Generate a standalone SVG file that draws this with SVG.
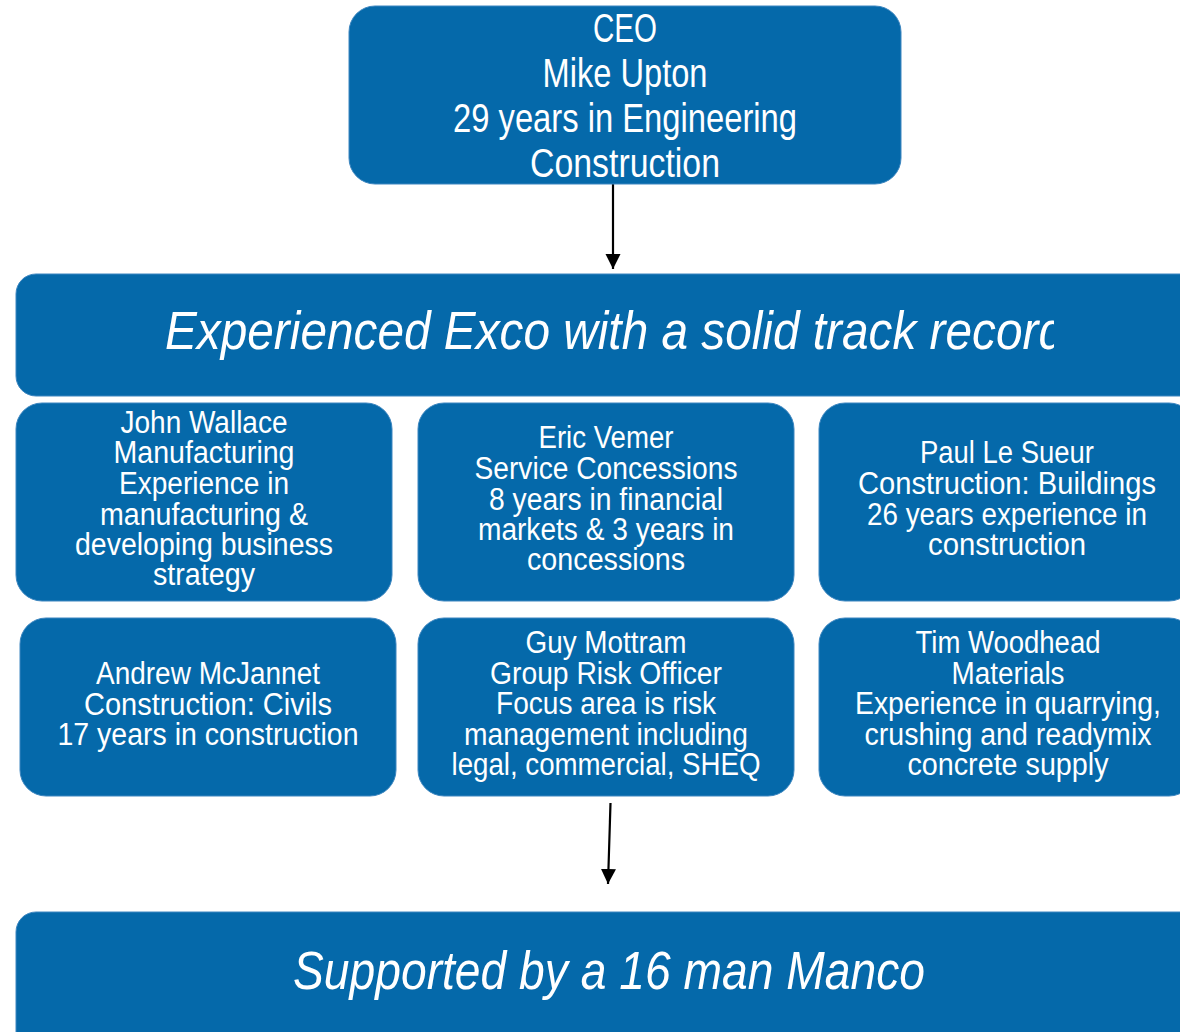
<svg xmlns="http://www.w3.org/2000/svg" width="1180" height="1032" viewBox="0 0 1180 1032">
  <style>
    .box { fill: #0569aa; stroke: #3d86c0; stroke-width: 1; }
    .t { fill: #ffffff; font-family: "Liberation Sans", Arial, sans-serif; text-anchor: middle; }
    .ceo { font-size: 40px; }
    .m { font-size: 31px; }
    .ban { font-size: 54px; font-style: italic; }
    .conn { stroke: #000000; stroke-width: 2.2; fill: none; marker-end: url(#arrow); }
  </style>
  <defs>
    <marker id="arrow" markerUnits="userSpaceOnUse" markerWidth="16" markerHeight="16" refX="15" refY="7.5" orient="auto">
      <path d="M0,0 L15,7.5 L0,15 Z" fill="#000000"/>
    </marker>
    <clipPath id="excoClip">
      <rect x="16" y="274" width="1038" height="122"/>
    </clipPath>
  </defs>

  <rect width="1180" height="1032" fill="#ffffff"/>

  <!-- connectors -->
  <g id="connectors">
    <line class="conn" x1="613" y1="184" x2="613" y2="269"/>
    <line class="conn" x1="610.5" y1="803" x2="608" y2="884"/>
  </g>

  <!-- CEO -->
  <g id="ceo">
    <rect class="box" x="349" y="6" width="552" height="178" rx="26"/>
    <text class="t ceo" x="625" y="42" textLength="64" lengthAdjust="spacingAndGlyphs">CEO</text>
    <text class="t ceo" x="625" y="87" textLength="165" lengthAdjust="spacingAndGlyphs">Mike Upton</text>
    <text class="t ceo" x="625" y="132" textLength="344" lengthAdjust="spacingAndGlyphs">29 years in Engineering</text>
    <text class="t ceo" x="625" y="177" textLength="190" lengthAdjust="spacingAndGlyphs">Construction</text>
  </g>

  <!-- Exco banner -->
  <g id="exco">
    <rect class="box" x="16" y="274" width="1190" height="122" rx="20"/>
    <text class="t ban" x="165" y="349" textLength="900" lengthAdjust="spacingAndGlyphs" clip-path="url(#excoClip)" style="text-anchor:start">Experienced Exco with a solid track record</text>
  </g>

  <!-- Row 1 -->
  <g id="john-wallace">
    <rect class="box" x="16" y="403" width="376" height="198" rx="26"/>
    <text class="t m" x="204" y="433" textLength="167" lengthAdjust="spacingAndGlyphs">John Wallace</text>
    <text class="t m" x="204" y="463" textLength="181" lengthAdjust="spacingAndGlyphs">Manufacturing</text>
    <text class="t m" x="204" y="494" textLength="170" lengthAdjust="spacingAndGlyphs">Experience in</text>
    <text class="t m" x="204" y="525" textLength="208" lengthAdjust="spacingAndGlyphs">manufacturing &amp;</text>
    <text class="t m" x="204" y="555" textLength="258" lengthAdjust="spacingAndGlyphs">developing business</text>
    <text class="t m" x="204" y="585" textLength="102" lengthAdjust="spacingAndGlyphs">strategy</text>
  </g>

  <g id="eric-vemer">
    <rect class="box" x="418" y="403" width="376" height="198" rx="26"/>
    <text class="t m" x="606" y="448" textLength="135" lengthAdjust="spacingAndGlyphs">Eric Vemer</text>
    <text class="t m" x="606" y="479" textLength="263" lengthAdjust="spacingAndGlyphs">Service Concessions</text>
    <text class="t m" x="606" y="510" textLength="234" lengthAdjust="spacingAndGlyphs">8 years in financial</text>
    <text class="t m" x="606" y="540" textLength="256" lengthAdjust="spacingAndGlyphs">markets &amp; 3 years in</text>
    <text class="t m" x="606" y="570" textLength="158" lengthAdjust="spacingAndGlyphs">concessions</text>
  </g>

  <g id="paul-le-sueur">
    <rect class="box" x="819" y="403" width="376" height="198" rx="26"/>
    <text class="t m" x="1007" y="463" textLength="174" lengthAdjust="spacingAndGlyphs">Paul Le Sueur</text>
    <text class="t m" x="1007" y="494" textLength="298" lengthAdjust="spacingAndGlyphs">Construction: Buildings</text>
    <text class="t m" x="1007" y="525" textLength="280" lengthAdjust="spacingAndGlyphs">26 years experience in</text>
    <text class="t m" x="1007" y="555" textLength="158" lengthAdjust="spacingAndGlyphs">construction</text>
  </g>

  <!-- Row 2 -->
  <g id="andrew-mcjannet">
    <rect class="box" x="20" y="618" width="376" height="178" rx="26"/>
    <text class="t m" x="208" y="684" textLength="224" lengthAdjust="spacingAndGlyphs">Andrew McJannet</text>
    <text class="t m" x="208" y="715" textLength="248" lengthAdjust="spacingAndGlyphs">Construction: Civils</text>
    <text class="t m" x="208" y="745" textLength="301" lengthAdjust="spacingAndGlyphs">17 years in construction</text>
  </g>

  <g id="guy-mottram">
    <rect class="box" x="418" y="618" width="376" height="178" rx="26"/>
    <text class="t m" x="606" y="653" textLength="161" lengthAdjust="spacingAndGlyphs">Guy Mottram</text>
    <text class="t m" x="606" y="684" textLength="232" lengthAdjust="spacingAndGlyphs">Group Risk Officer</text>
    <text class="t m" x="606" y="714" textLength="220" lengthAdjust="spacingAndGlyphs">Focus area is risk</text>
    <text class="t m" x="606" y="745" textLength="284" lengthAdjust="spacingAndGlyphs">management including</text>
    <text class="t m" x="606" y="775" textLength="309" lengthAdjust="spacingAndGlyphs">legal, commercial, SHEQ</text>
  </g>

  <g id="tim-woodhead">
    <rect class="box" x="819" y="618" width="376" height="178" rx="26"/>
    <text class="t m" x="1008" y="653" textLength="185" lengthAdjust="spacingAndGlyphs">Tim Woodhead</text>
    <text class="t m" x="1008" y="684" textLength="113" lengthAdjust="spacingAndGlyphs">Materials</text>
    <text class="t m" x="1008" y="714" textLength="306" lengthAdjust="spacingAndGlyphs">Experience in quarrying,</text>
    <text class="t m" x="1008" y="745" textLength="287" lengthAdjust="spacingAndGlyphs">crushing and readymix</text>
    <text class="t m" x="1008" y="775" textLength="201" lengthAdjust="spacingAndGlyphs">concrete supply</text>
  </g>

  <!-- Manco banner -->
  <g id="manco">
    <rect class="box" x="16" y="912" width="1190" height="140" rx="20"/>
    <text class="t ban" x="609" y="989" textLength="632" lengthAdjust="spacingAndGlyphs">Supported by a 16 man Manco</text>
  </g>
</svg>
